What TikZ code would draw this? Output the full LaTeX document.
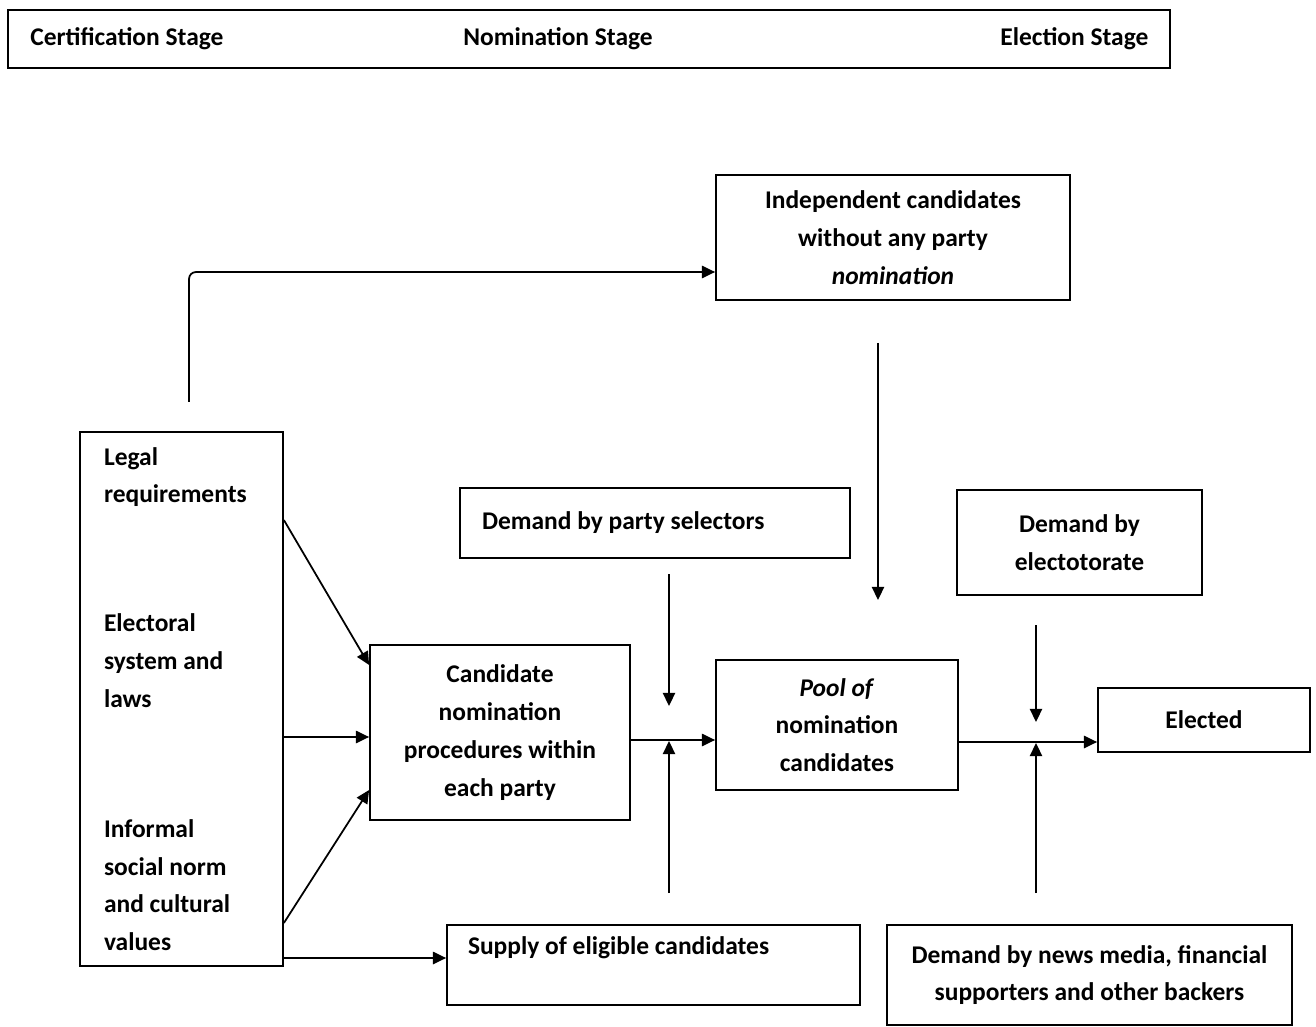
\documentclass[tikz,border=0pt]{standalone}
\usepackage{fontspec}
\setmainfont{Carlito}
\usetikzlibrary{arrows.meta, positioning, calc}

\begin{document}
\begin{tikzpicture}[x=0.02cm, y=-0.02cm,
    every node/.style={font=\fontsize{14.5}{21.5}\selectfont\bfseries},
    box/.style={draw, line width=1pt, inner sep=0pt, align=center},
    lbl/.style={inner sep=0pt},
    arr/.style={line width=1pt, -{Triangle[length=7.5pt, width=7pt]}}]
      \useasboundingbox (0,0) rectangle (1316,1027);

      % stage banner
      \node [box, minimum width=1162*0.02cm, minimum height=58*0.02cm] (stages) at (589,39) {};
      \node [lbl, anchor=west] (cert) at (30,39) {Certification Stage};
      \node [lbl, anchor=west] (nom) at (463,39) {Nomination Stage};
      \node [lbl, anchor=west] (elec) at (1000,39) {Election Stage};

      % boxes
      \node [box, minimum width=354*0.02cm, minimum height=125*0.02cm] (indep) at (893,237.5)
            {Independent candidates\\ without any party\\ \textit{nomination}};
      \node [box, align=flush left, text width=155*0.02cm, inner xsep=0.48cm, minimum height=534*0.02cm] (legal) at (181.5,699)
            {Legal\\ requirements\\[1.82cm] Electoral\\ system and\\ laws\\[1.85cm] Informal\\ social norm\\ and cultural\\ values};
      \node [box, minimum width=260*0.02cm, minimum height=175*0.02cm] (cand) at (500,732.5)
            {Candidate\\ nomination\\ procedures within\\ each party};
      \node [box, align=flush left, text width=346*0.02cm, inner xsep=0.44cm, minimum height=70*0.02cm] (party) at (655,523)
            {Demand by party selectors};
      \node [box, align=flush left, text width=371*0.02cm, inner xsep=0.42cm, text depth=0.78cm, minimum height=80*0.02cm] (supply) at (653.5,965)
            {Supply of eligible candidates};
      \node [box, minimum width=242*0.02cm, minimum height=130*0.02cm] (pool) at (837,725)
            {\textit{Pool of}\\ nomination\\ candidates};
      \node [box, minimum width=245*0.02cm, minimum height=105*0.02cm] (elect) at (1079.5,542.5)
            {Demand by\\ electotorate};
      \node [box, minimum width=212*0.02cm, minimum height=64*0.02cm] (elected) at (1204,720) {Elected};
      \node [box, minimum width=405*0.02cm, minimum height=100*0.02cm] (news) at (1089.5,975)
            {Demand by news media, financial\\ supporters and other backers};

      % free ends
      \coordinate (lstart) at (189,402);
      \coordinate (kink) at (189,272);
      \coordinate (itop) at (878,343);
      \coordinate (ibot) at (878,600);
      \coordinate (ptop) at (669,574);
      \coordinate (pbot) at (669,706);
      \coordinate (stop) at (669,741);
      \coordinate (sbot) at (669,893);
      \coordinate (etop) at (1036,625);
      \coordinate (ebot) at (1036,722);
      \coordinate (ntop) at (1036,743);
      \coordinate (nbot) at (1036,893);

      % legal to independent
      \draw [arr, rounded corners=4pt] (lstart) -- (kink) -- (kink -| indep.west);
      % independent to pool
      \draw [arr] (itop) -- (ibot);

      % legal to candidate
      \draw [arr] (legal.east |- 0,520) -- (cand.west |- 0,665);
      \draw [arr] (legal.east |- 0,737) -- (cand.west |- 0,737);
      \draw [arr] (legal.east |- 0,923) -- (cand.west |- 0,790);
      % legal to supply
      \draw [arr] (legal.east |- 0,958) -- (supply.west |- 0,958);

      % candidate to pool
      \draw [arr] (cand.east |- 0,740) -- (pool.west |- 0,740);
      \draw [arr] (ptop) -- (pbot);
      \draw [arr] (sbot) -- (stop);

      % pool to elected
      \draw [arr] (pool.east |- 0,742) -- (elected.west |- 0,742);
      \draw [arr] (etop) -- (ebot);
      \draw [arr] (nbot) -- (ntop);
\end{tikzpicture}
\end{document}
